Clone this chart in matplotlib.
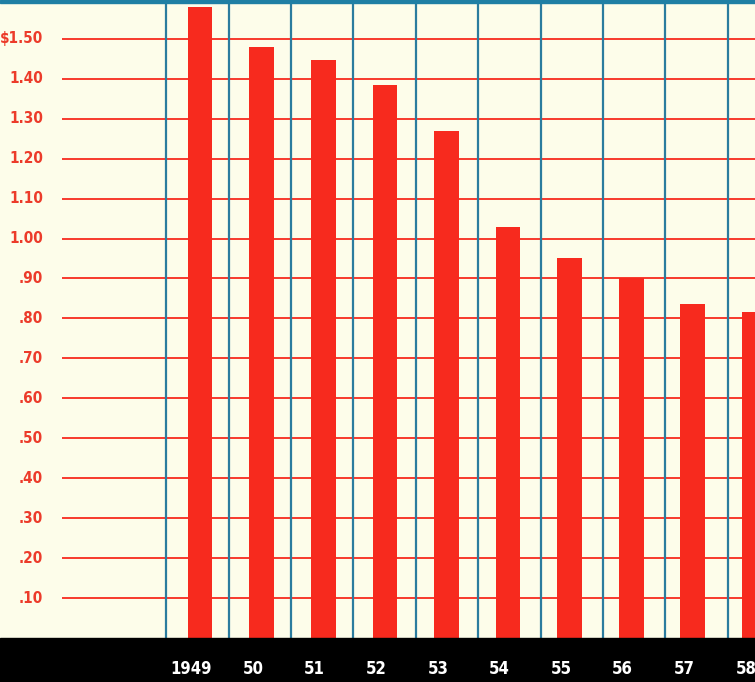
import matplotlib
matplotlib.use("Agg")
import matplotlib.pyplot as plt
from matplotlib import font_manager

years = ["1949", "50", "51", "52", "53", "54", "55", "56", "57", "58"]
prices = [1.58, 1.48, 1.447, 1.385, 1.27, 1.03, 0.95, 0.90, 0.835, 0.815]
tick_vals = [0.10, 0.20, 0.30, 0.40, 0.50, 0.60, 0.70, 0.80, 0.90, 1.00,
             1.10, 1.20, 1.30, 1.40, 1.50]
tick_labels = [".10", ".20", ".30", ".40", ".50", ".60", ".70", ".80", ".90",
               "1.00", "1.10", "1.20", "1.30", "1.40", "$1.50"]

cream = "#fdfdea"
red = "#f72a1e"
label_red = "#ec3b2a"
blue = "#2b7c9e"

# a narrow face looks closest to the printed labels
names = set(f.name for f in font_manager.fontManager.ttflist)
if "Liberation Sans Narrow" in names:
    font, stretch, fs = "Liberation Sans Narrow", "condensed", 12
else:
    font, stretch, fs = "DejaVu Sans", "condensed", 11

fig = plt.figure(figsize=(7.55, 6.82), dpi=100)
fig.patch.set_facecolor(cream)
ax = fig.add_axes([0, 0, 1, 1])
ax.set_facecolor(cream)

x = list(range(len(years)))
ax.set_xlim(-3.25, 9.01)
ax.set_ylim(-0.11, 1.597)

# black strip at the bottom and teal strip at the top
ax.axhspan(-0.11, 0, color="black", zorder=5)
ax.axhspan(1.589, 1.597, color="#1f7fa4", zorder=5)

# horizontal red rules
ax.hlines(tick_vals, -2.24, 9.01, color=red, lw=1.3, zorder=1)
# blue vertical rules between bars (printed grid is a touch wider than the bar pitch)
ax.vlines([i * 1.013 - 0.55 for i in range(len(years))], 0, 1.59,
          color=blue, lw=1.6, zorder=1)

ax.bar(x, prices, width=0.4, color=red, zorder=3)

for v, lab in zip(tick_vals, tick_labels):
    ax.text(-2.55, v, lab, ha="right", va="center", color=label_red,
            fontsize=fs, fontweight="bold", family=font, fontstretch=stretch)

for i, yr in enumerate(years):
    ax.text(i - 0.14, -0.077, yr, ha="center", va="center", color="white",
            fontsize=fs + 1, fontweight="bold", family=font, fontstretch=stretch, zorder=6)

ax.axis("off")
fig.savefig("out.png", dpi=100, facecolor=cream)
